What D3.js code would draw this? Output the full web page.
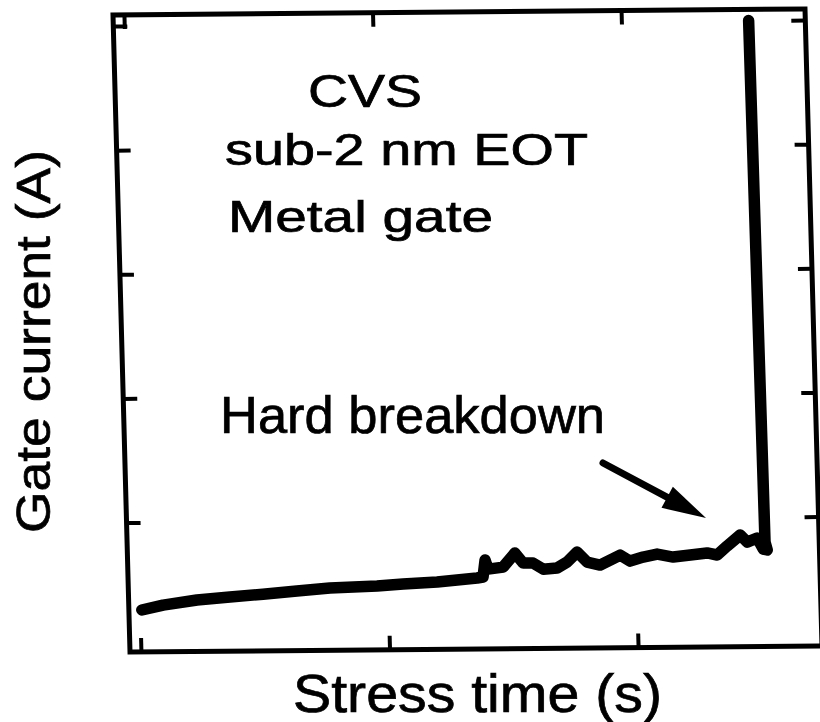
<!DOCTYPE html>
<html>
<head>
<meta charset="utf-8">
<script src="https://cdn.jsdelivr.net/npm/d3@7"></script>
<style>
  html, body { margin: 0; padding: 0; background: #fff; }
  svg text { font-family: "Liberation Sans", Arial, Helvetica, sans-serif; fill: #000; stroke: #000; stroke-width: 0.7; }
  .axis path.domain { display: none; }
  .axis line { stroke: #000; stroke-width: 4; }
</style>
</head>
<body>
<div id="chart"></div>
<script>
// stress time (s)
var stressTime = [8, 94, 231, 364, 497, 634, 767, 957, 1062, 1199, 1360, 1384, 1394, 1405,
  1466, 1515, 1547, 1587, 1627, 1683, 1724, 1765, 1804, 1856, 1938, 1977, 2030, 2087,
  2151, 2220, 2288, 2328, 2369, 2423, 2450, 2491, 2514, 2530, 2522, 2512];
// gate current (A)
var gateCurrent = [1.97e-9, 2.15e-9, 2.35e-9, 2.47e-9, 2.59e-9, 2.73e-9, 2.87e-9, 2.96e-9,
  3.06e-9, 3.16e-9, 3.38e-9, 3.44e-9, 4.71e-9, 3.98e-9, 4.12e-9, 5.33e-9, 4.43e-9, 4.42e-9,
  3.94e-9, 4.02e-9, 4.48e-9, 5.38e-9, 4.46e-9, 4.21e-9, 5.05e-9, 4.51e-9, 4.85e-9, 5.12e-9,
  4.83e-9, 5.00e-9, 5.18e-9, 4.98e-9, 5.87e-9, 7.19e-9, 6.30e-9, 6.78e-9, 5.52e-9, 5.42e-9,
  6.31e-9, 1.0e-4];
var xTicks = [0, 1000, 2000];
var yTicks = [1e-8, 1e-7, 1e-6, 1e-5, 1e-4];
var notes = ["CVS", "sub-2 nm EOT", "Metal gate"];
var arrowNote = "Hard breakdown";
var xTitle = "Stress time (s)";
var yTitle = "Gate current (A)";

var svgWidth = 820, svgHeight = 722;
var plotW = 692, plotH = 637;

var svg = d3.select('#chart').append('svg')
    .attr('width', svgWidth)
    .attr('height', svgHeight);

// the scanned frame is slightly sheared, so the plot area gets a small affine transform
var plot = svg.append('g')
    .attr('transform', 'matrix(1,-0.00867,0.0267,1,113,15)');

var x = d3.scaleLinear().domain([-44, 2740]).range([0, plotW]);
var y = d3.scaleLog().domain([Math.pow(10, -9.043), Math.pow(10, -3.911)]).range([plotH, 0]);

var tick = 14;
plot.append('g').attr('class', 'axis')
    .attr('transform', 'translate(0,' + plotH + ')')
    .call(d3.axisBottom(x).tickValues(xTicks).tickSizeInner(-tick).tickSizeOuter(0).tickFormat(''));
plot.append('g').attr('class', 'axis')
    .call(d3.axisTop(x).tickValues(xTicks).tickSizeInner(-tick).tickSizeOuter(0).tickFormat(''));
plot.append('g').attr('class', 'axis')
    .call(d3.axisLeft(y).tickValues(yTicks).tickSizeInner(-tick).tickSizeOuter(0).tickFormat(''));
plot.append('g').attr('class', 'axis')
    .attr('transform', 'translate(' + plotW + ',0)')
    .call(d3.axisRight(y).tickValues(yTicks).tickSizeInner(-tick).tickSizeOuter(0).tickFormat(''));

plot.append('rect')
    .attr('width', plotW)
    .attr('height', plotH)
    .attr('fill', 'none')
    .attr('stroke', '#000')
    .attr('stroke-width', 5);

var data = stressTime.map(function (t, i) { return { t: t, i: gateCurrent[i] }; });
var line = d3.line()
    .x(function (d) { return x(d.t); })
    .y(function (d) { return y(d.i); });
plot.append('path')
    .datum(data)
    .attr('d', line)
    .attr('fill', 'none')
    .attr('stroke', '#000')
    .attr('stroke-width', 11.5)
    .attr('stroke-linecap', 'round')
    .attr('stroke-linejoin', 'round');

// annotations
var noteSpec = [
    { x: 308, y: 107, size: 46, len: 114 },
    { x: 225, y: 165, size: 45, len: 363 },
    { x: 228, y: 232, size: 44, len: 265 }
];
notes.forEach(function (s, k) {
    svg.append('text')
        .attr('x', noteSpec[k].x)
        .attr('y', noteSpec[k].y)
        .attr('font-size', noteSpec[k].size)
        .attr('textLength', noteSpec[k].len)
        .attr('lengthAdjust', 'spacingAndGlyphs')
        .text(s);
});
svg.append('text')
    .attr('x', 220).attr('y', 433)
    .attr('font-size', 52)
    .attr('textLength', 385)
    .attr('lengthAdjust', 'spacingAndGlyphs')
    .text(arrowNote);

// arrow to the breakdown point
var a0 = [603, 463], a1 = [706, 518];
var dx = a1[0] - a0[0], dy = a1[1] - a0[1], len = Math.sqrt(dx * dx + dy * dy);
var ux = dx / len, uy = dy / len, headL = 44, headW = 12;
var bx = a1[0] - ux * headL, by = a1[1] - uy * headL;
svg.append('line')
    .attr('x1', a0[0]).attr('y1', a0[1])
    .attr('x2', bx + ux * 4).attr('y2', by + uy * 4)
    .attr('stroke', '#000').attr('stroke-width', 7).attr('stroke-linecap', 'round');
svg.append('polygon')
    .attr('points', [a1, [bx - uy * headW, by + ux * headW], [bx + uy * headW, by - ux * headW]]
        .map(function (p) { return p.join(','); }).join(' '))
    .attr('fill', '#000');

svg.append('text')
    .attr('x', 293).attr('y', 712)
    .attr('font-size', 53)
    .attr('textLength', 369)
    .attr('lengthAdjust', 'spacingAndGlyphs')
    .text(xTitle);

svg.append('text')
    .attr('transform', 'translate(50,533) rotate(-90)')
    .attr('font-size', 49)
    .attr('textLength', 383)
    .attr('lengthAdjust', 'spacingAndGlyphs')
    .text(yTitle);
</script>
</body>
</html>
